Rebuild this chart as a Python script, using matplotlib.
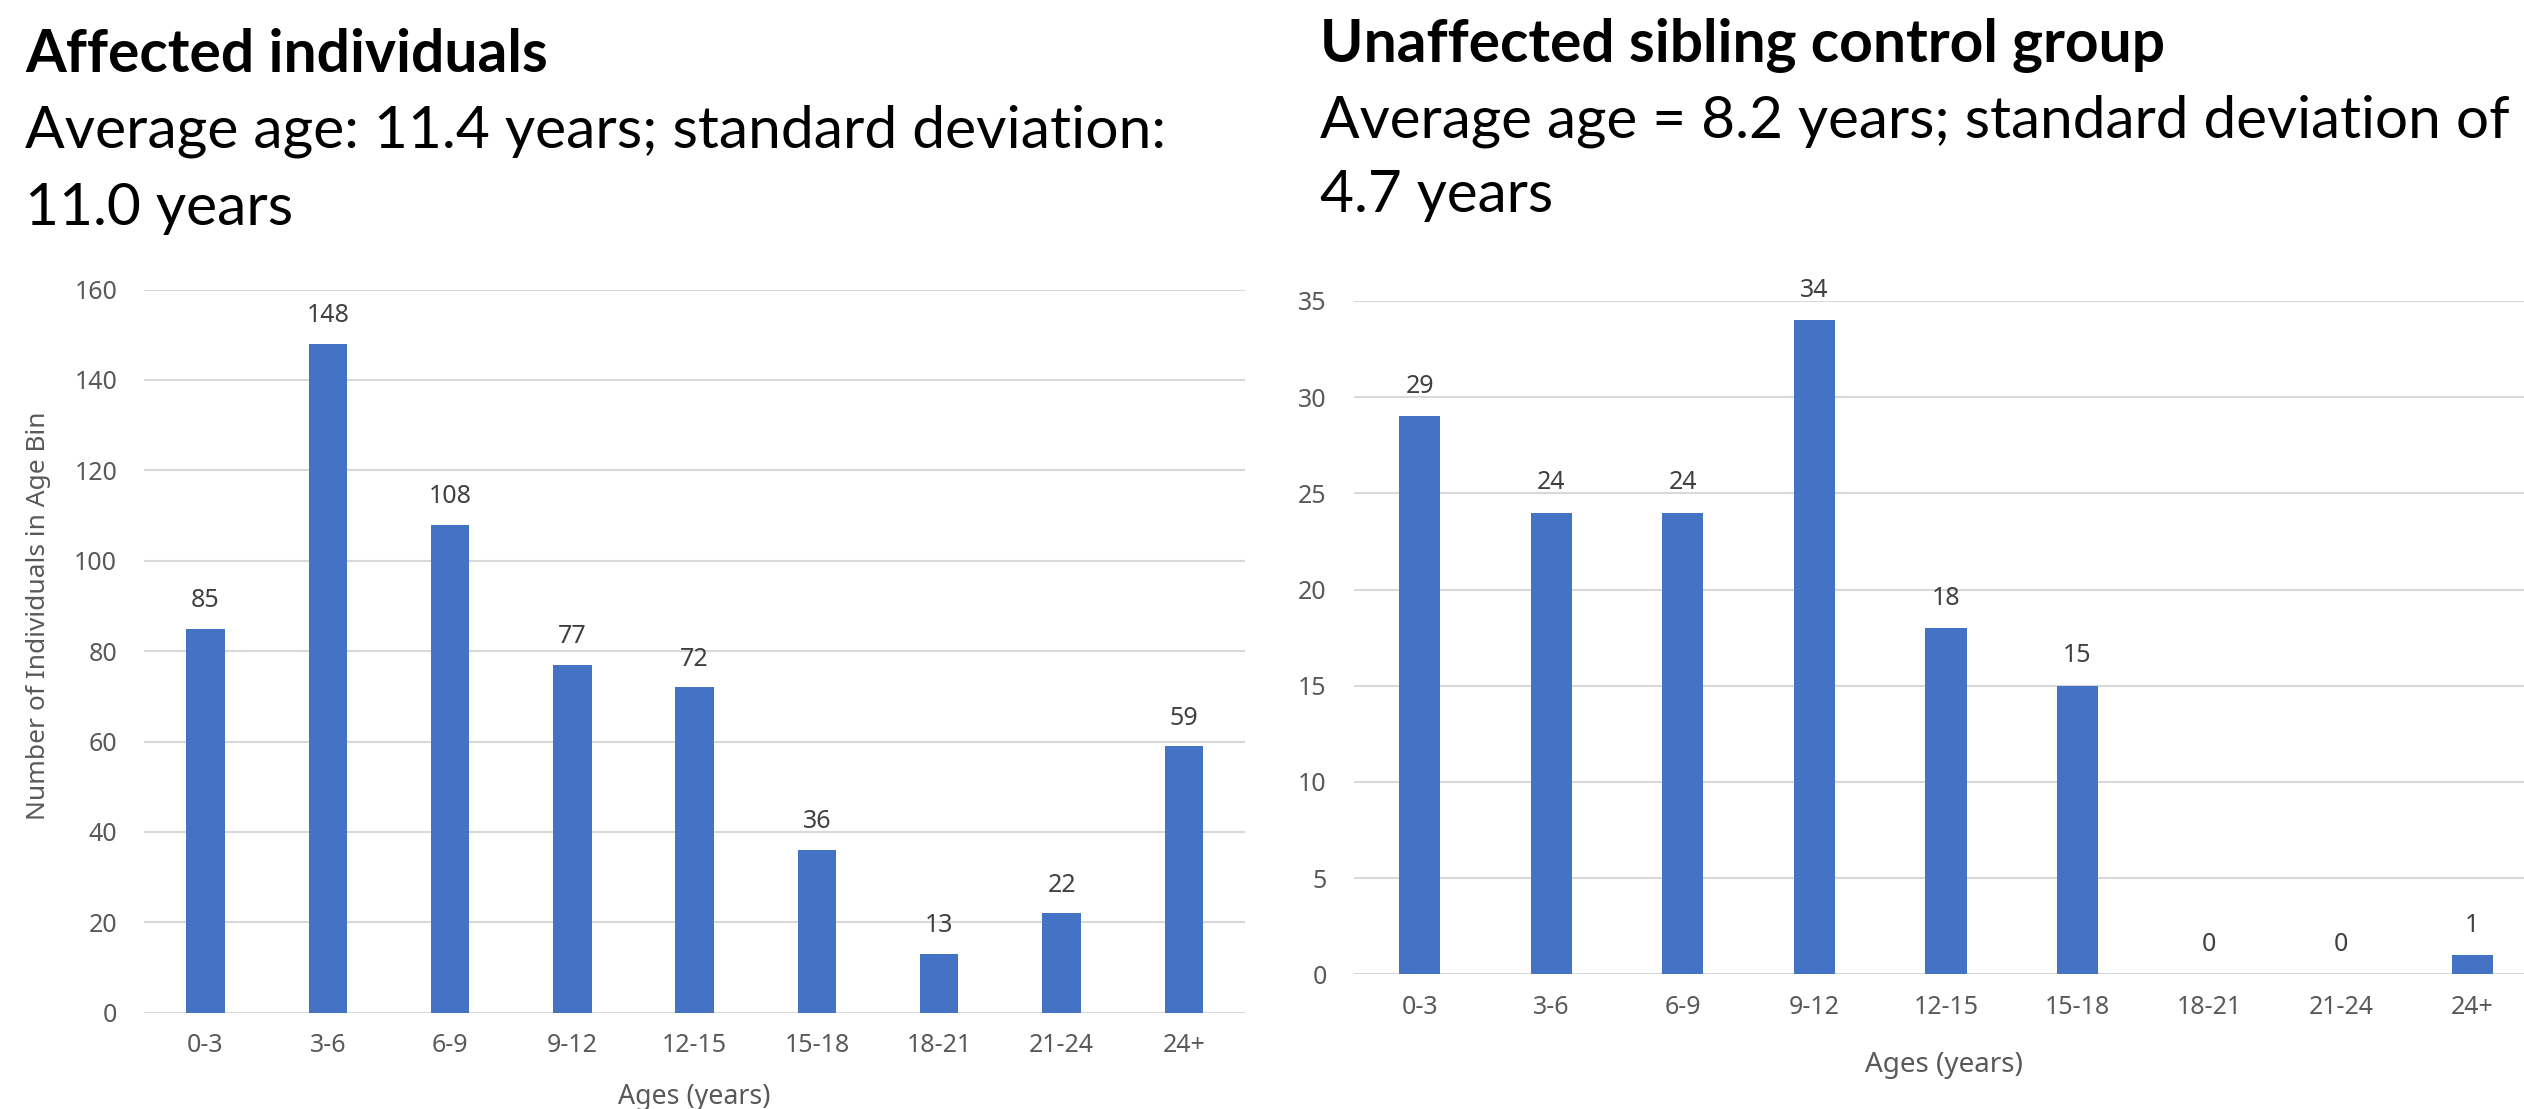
import matplotlib
matplotlib.use("Agg")
import matplotlib.pyplot as plt

# ---------------- data ----------------
age_bins = ["0-3", "3-6", "6-9", "9-12", "12-15", "15-18", "18-21", "21-24", "24+"]
affected_counts = [85, 148, 108, 77, 72, 36, 13, 22, 59]
sibling_counts = [29, 24, 24, 34, 18, 15, 0, 0, 1]
affected_yticks = [0, 20, 40, 60, 80, 100, 120, 140, 160]
sibling_yticks = [0, 5, 10, 15, 20, 25, 30, 35]

left_title = "Affected individuals"
left_sub = ["Average age: 11.4 years; standard deviation:", "11.0 years"]
right_title = "Unaffected sibling control group"
right_sub = ["Average age = 8.2 years; standard deviation of", "4.7 years"]
xlabel = "Ages (years)"
ylabel = "Number of Individuals in Age Bin"

# ---------------- style ----------------
W, H = 2524, 1109
DPI = 100
BAR = "#4472C4"
GRID = "#D9D9D9"
TICK = "#595959"
LBL = "#404040"
TFONT = ["Lato", "DejaVu Sans"]
AFONT = ["Noto Sans", "DejaVu Sans"]

fig = plt.figure(figsize=(W / DPI, H / DPI), dpi=DPI)
fig.patch.set_facecolor("white")


def rect(x0, y_top, x1, y_bot):
    return [x0 / W, 1 - y_bot / H, (x1 - x0) / W, (y_bot - y_top) / H]


def fpos(x, y):
    return x / W, 1 - y / H


renderer = fig.canvas.get_renderer()


def fit_width(t, target, rotated=False):
    bb = t.get_window_extent(renderer)
    cur = bb.height if rotated else bb.width
    t.set_fontsize(t.get_fontsize() * target / cur)
    return t.get_fontsize()


def make_axes(r, values, yticks, label_off_px):
    ax = fig.add_axes(r)
    x = list(range(len(age_bins)))
    ax.bar(x, values, width=0.314, color=BAR, zorder=3)
    ax.set_xlim(-0.5, len(age_bins) - 0.5)
    ax.set_ylim(yticks[0], yticks[-1])
    ax.set_yticks(yticks)
    ax.set_xticks(x)
    ax.set_xticklabels(age_bins)
    for s in ax.spines.values():
        s.set_visible(False)
    ax.yaxis.grid(True, color=GRID, linewidth=1.5, zorder=0)
    ax.set_axisbelow(True)
    ax.tick_params(axis="both", length=0, labelsize=18, labelcolor=TICK)
    ax.tick_params(axis="y", pad=19.5)
    ax.tick_params(axis="x", pad=14.5)
    for lab in ax.get_xticklabels() + ax.get_yticklabels():
        lab.set_family(AFONT)
    for xi, v in zip(x, values):
        ax.annotate(str(v), xy=(xi, v), xytext=(0, label_off_px * 72 / DPI),
                    textcoords="offset points", ha="center", va="center",
                    fontsize=18, color=LBL, family=AFONT)
    return ax


ax1 = make_axes(rect(144.3, 289.5, 1245.0, 1012.7), affected_counts, affected_yticks, 28)
ax2 = make_axes(rect(1353.8, 301.0, 2538.2, 974.4), sibling_counts, sibling_yticks, 30)

# axis titles
t = fig.text(*fpos(694, 1104), xlabel, ha="center", va="baseline",
             fontsize=20, color=TICK, family=AFONT)
fit_width(t, 152)
t = fig.text(*fpos(1944, 1072), xlabel, ha="center", va="baseline",
             fontsize=20, color=TICK, family=AFONT)
fit_width(t, 158)
t = fig.text(*fpos(45, 616), ylabel, ha="center", va="baseline", rotation=90,
             rotation_mode="anchor", fontsize=20, color=TICK, family=AFONT)
fit_width(t, 408, rotated=True)

# headings
t = fig.text(*fpos(25, 72), left_title, ha="left", va="baseline",
             fontsize=40, fontweight="bold", color="black", family=TFONT)
fit_width(t, 522)
t = fig.text(*fpos(25, 148), left_sub[0], ha="left", va="baseline",
             fontsize=40, color="black", family=TFONT)
fs = fit_width(t, 1140)
fig.text(*fpos(25, 225), left_sub[1], ha="left", va="baseline",
         fontsize=fs, color="black", family=TFONT)

t = fig.text(*fpos(1320, 62), right_title, ha="left", va="baseline",
             fontsize=40, fontweight="bold", color="black", family=TFONT)
fit_width(t, 845)
t = fig.text(*fpos(1320, 137), right_sub[0], ha="left", va="baseline",
             fontsize=40, color="black", family=TFONT)
fs = fit_width(t, 1190)
fig.text(*fpos(1320, 212), right_sub[1], ha="left", va="baseline",
         fontsize=fs, color="black", family=TFONT)

fig.savefig("out.png", dpi=DPI, facecolor="white")
